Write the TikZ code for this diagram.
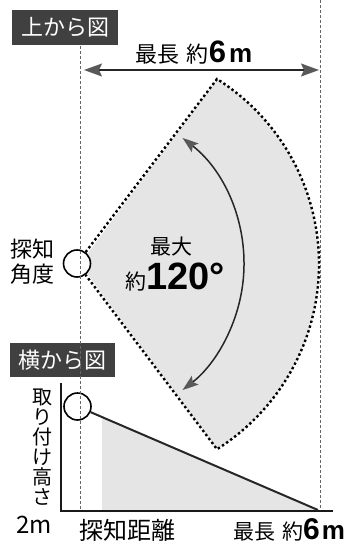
\documentclass[tikz,border=0pt]{standalone}
\usepackage{fontspec}
\setmainfont{Noto Sans CJK JP}
\newfontfamily\numfont{Liberation Sans}
\usetikzlibrary{arrows.meta}
\definecolor{boxgray}{gray}{0.25}
\definecolor{areagray}{gray}{0.9}
\newcommand{\bignum}[2]{{\numfont\bfseries\fontsize{#1}{#1}\selectfont #2}}

\begin{document}
\begin{tikzpicture}[x=1pt,y=-1pt,
  txt/.style={inner sep=0pt,font=\fontsize{21}{25}\selectfont},
  headbox/.style={fill=boxgray,text=white,inner sep=0pt,minimum width=106pt,minimum height=35pt,font=\fontsize{22}{22}\selectfont},
  guide/.style={draw=black!60,line width=0.6pt,dash pattern=on 3pt off 2pt},
  sensor/.style={draw,circle,fill=white,line width=1.6pt,minimum size=27pt,inner sep=0pt},
  zone/.style={draw=black,line width=2.4pt,dash pattern=on 2.4pt off 2.6pt},
  dimarrow/.style={draw=black!85,line width=1.6pt,{Stealth[length=18pt,width=13pt,inset=3pt,black!65]}-{Stealth[length=18pt,width=13pt,inset=3pt,black!65]}},
  sweep/.style={draw=black!85,line width=1.5pt,{Stealth[length=16pt,width=11pt,inset=3pt,black!65]}-{Stealth[length=16pt,width=11pt,inset=3pt,black!65]}},
  axis/.style={draw=black!90,line width=2pt},
  beam/.style={draw=black!85,line width=2pt}]
\useasboundingbox (0,0) rectangle (354,546);

\node[headbox] (topview) at (65,27.5) {上から図};
\node[headbox,minimum width=105pt,minimum height=34pt] (sideview) at (62.5,360) {横から図};

\coordinate (dl) at (84,70);
\coordinate (dr) at (319,70);
\draw[dimarrow] (dl) -- (dr);
\node[txt,anchor=base,font=\fontsize{22}{22}\selectfont] (toplen) at (194,62) {最長\hspace{7pt}約\bignum{31}{6}\hspace{3pt}\bignum{26}{m}};

\coordinate (apex) at (80,264);
\coordinate (ztop) at (217,79);
\coordinate (zbot) at (217,449);
\fill[areagray] (apex) -- (ztop) arc[start angle=-57.7,end angle=57.7,radius=219] -- cycle;
\node[sensor] (eye) at (77,263.5) {};
\draw[zone] (eye) -- (ztop) arc[start angle=-57.7,end angle=57.7,radius=219] -- (eye);
\draw[sweep] (84,264) ++(-52:160) arc[start angle=-52,end angle=52,radius=160];
\node[txt] (maxa) at (171,247) {最大};
\node[txt,anchor=base] (ang) at (175,289) {約\bignum{38}{120°}};
\node[txt,align=center,font=\fontsize{22}{25}\selectfont] (detang) at (32,262) {探知\\角度};

\coordinate (reach) at (318,510);
\fill[areagray] (102,417) -- (reach) -- (318,512) -- (102,512) -- cycle;
\draw[axis] (61,383) -- (61,511) -- (333,511);
\node[sensor] (eye2) at (77.5,406.5) {};
\draw[beam] (eye2) -- (reach);
\node[txt,align=center,font=\fontsize{20}{20}\selectfont] (hgt) at (42,447) {取\\り\\付\\け\\高\\さ};
\node[txt,anchor=base,font=\fontsize{24}{24}\selectfont] (hval) at (34,533) {2m};
\node[txt,anchor=base,font=\fontsize{24}{24}\selectfont] (dist) at (127,539) {探知距離};
\node[txt,anchor=base,font=\fontsize{21}{21}\selectfont] (botlen) at (289,539) {最長\hspace{7pt}約\bignum{30}{6}\hspace{2pt}\bignum{26}{m}};

\draw[guide] (80,46) -- (80,510);
\draw[guide] (320,0) -- (320,510);
\end{tikzpicture}
\end{document}
